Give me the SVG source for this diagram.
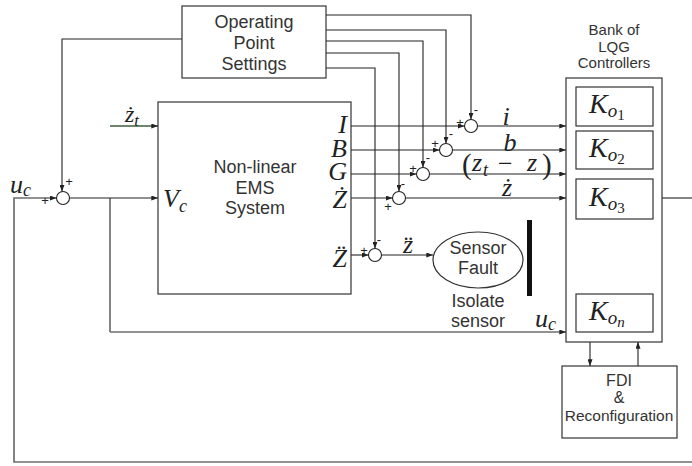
<svg xmlns="http://www.w3.org/2000/svg" width="692" height="466" viewBox="0 0 692 466">
<defs>
<marker id="arr" viewBox="0 0 8 6" refX="8" refY="3" markerWidth="7" markerHeight="5" orient="auto" markerUnits="userSpaceOnUse"><path d="M0,0 L8,3 L0,6 z" fill="#222"/></marker>
</defs>
<style>
.box{fill:#fff;stroke:#333;stroke-width:1.2}
.ln{fill:none;stroke:#222;stroke-width:1.1}
.gl{fill:none;stroke:#6e6e6e;stroke-width:1.7}
.sum{fill:#fff;stroke:#222;stroke-width:1.1}
.t{font-family:"Liberation Sans",Arial,sans-serif;fill:#333;text-anchor:middle}
.m{font-family:"Liberation Serif","Times New Roman",serif;font-style:italic;fill:#222}
.r{font-family:"Liberation Serif","Times New Roman",serif;fill:#222}
.s{font-family:"Liberation Sans",Arial,sans-serif;font-size:13px;fill:#222;text-anchor:middle}
</style>
<rect width="692" height="466" fill="#fff"/>

<g id="connectors">
  <path class="ln" d="M182,39 H62 V191.5" marker-end="url(#arr)"/>
  <path class="ln" d="M326,15 H471 V119.5" marker-end="url(#arr)"/>
  <path class="ln" d="M326,30 H446 V143.5" marker-end="url(#arr)"/>
  <path class="ln" d="M326,41 H423 V167.5" marker-end="url(#arr)"/>
  <path class="ln" d="M326,53 H399 V191.5" marker-end="url(#arr)"/>
  <path class="ln" d="M326,68 H375 V248.5" marker-end="url(#arr)"/>
  <path fill="none" stroke="#3d5e3d" stroke-width="1.3" d="M110,126 H158" marker-end="url(#arr)"/>
  <path class="gl" d="M692,462 H14 V198 H56.5" marker-end="url(#arr)"/>
  <path class="ln" d="M69.5,198 H158" marker-end="url(#arr)"/>
  <path class="ln" d="M110,198 V332"/>
  <path class="gl" style="stroke-width:1.4" d="M110,332 H566" marker-end="url(#arr)"/>
  <path class="ln" d="M351,126 H464.5" marker-end="url(#arr)"/>
  <path class="ln" d="M477.5,126 H566" marker-end="url(#arr)"/>
  <path class="ln" d="M351,150 H439.5" marker-end="url(#arr)"/>
  <path class="ln" d="M452.5,150 H566" marker-end="url(#arr)"/>
  <path class="ln" d="M351,174 H416.5" marker-end="url(#arr)"/>
  <path class="ln" d="M429.5,174 H566" marker-end="url(#arr)"/>
  <path class="ln" d="M351,198 H392.5" marker-end="url(#arr)"/>
  <path class="ln" d="M405.5,198 H566" marker-end="url(#arr)"/>
  <path class="ln" d="M351,255 H368.5" marker-end="url(#arr)"/>
  <path class="ln" d="M381.5,255 H433" marker-end="url(#arr)"/>
  <path class="ln" d="M662,198 H692"/>
  <path class="ln" d="M590,342 V366" marker-end="url(#arr)"/>
  <path class="ln" d="M638,366 V342" marker-end="url(#arr)"/>
  <path fill="none" stroke="#444" stroke-width="1.1" stroke-dasharray="5,3" d="M614,219 V294"/>
</g>

<g id="ops">
  <rect class="box" x="182" y="6" width="144" height="72"/>
  <text class="t" font-size="18" x="254" y="28">Operating</text>
  <text class="t" font-size="18" x="254" y="49">Point</text>
  <text class="t" font-size="18" x="254" y="70">Settings</text>
</g>

<g id="plant">
  <rect class="box" x="158" y="102" width="193" height="192"/>
  <text class="t" font-size="18" x="255" y="173">Non-linear</text>
  <text class="t" font-size="18" x="255" y="194">EMS</text>
  <text class="t" font-size="18" x="255" y="214">System</text>
  <text class="m" font-size="26" x="163" y="207">V<tspan font-size="18" dy="5">c</tspan></text>
  <text class="m" font-size="26" x="347" y="133" text-anchor="end">I</text>
  <text class="m" font-size="26" x="347" y="157" text-anchor="end">B</text>
  <text class="m" font-size="26" x="347" y="180" text-anchor="end">G</text>
  <text class="m" font-size="26" x="347" y="208" text-anchor="end">Ż</text>
  <text class="m" font-size="26" x="347" y="267" text-anchor="end">Z̈</text>
</g>

<g id="input-labels">
  <text class="m" font-size="24" x="125" y="122">ż<tspan font-size="17" dy="4">t</tspan></text>
  <text class="m" font-size="26" x="10" y="193">u<tspan font-size="18" dy="3">c</tspan></text>
  <text class="s" x="45" y="205">+</text>
  <text class="s" x="69" y="186">+</text>
  <text class="m" font-size="26" x="535" y="327">u<tspan font-size="18" dy="3">c</tspan></text>
</g>

<g id="sum0"><circle class="sum" cx="63" cy="198" r="6.5"/></g>
<g id="sum1"><circle class="sum" cx="471" cy="126" r="6.5"/><text class="s" x="460" y="127">+</text><text class="s" x="476" y="114">-</text></g>
<g id="sum2"><circle class="sum" cx="446" cy="150" r="6.5"/><text class="s" x="435" y="148">+</text><text class="s" x="451" y="138">-</text></g>
<g id="sum3"><circle class="sum" cx="423" cy="174" r="6.5"/><text class="s" x="413" y="173">+</text><text class="s" x="428" y="162">-</text></g>
<g id="sum4"><circle class="sum" cx="399" cy="198" r="6.5"/><text class="s" x="388" y="211">+</text><text class="s" x="403" y="188">-</text></g>
<g id="sum5"><circle class="sum" cx="375" cy="255" r="6.5"/><text class="s" x="364" y="255">+</text><text class="s" x="379" y="244">-</text></g>

<g id="signal-labels">
  <text class="m" font-size="26" x="506" y="125" text-anchor="middle">i</text>
  <text class="m" font-size="26" x="510" y="151" text-anchor="middle">b</text>
  <text class="r" font-size="29" x="462" y="174">(</text>
  <text class="m" font-size="26" x="472" y="171">z</text>
  <text class="m" font-size="18" x="483" y="176">t</text>
  <text class="r" font-size="26" x="498" y="172">−</text>
  <text class="m" font-size="26" x="527" y="171">z</text>
  <text class="r" font-size="29" x="542" y="174">)</text>
  <text class="m" font-size="26" x="507" y="196" text-anchor="middle">ż</text>
  <text class="m" font-size="26" x="408" y="253" text-anchor="middle">z̈</text>
</g>

<g id="sensor-fault">
  <ellipse cx="478" cy="260" rx="45" ry="28" fill="#fff" stroke="#333" stroke-width="1.2"/>
  <text class="t" font-size="18" x="478" y="254">Sensor</text>
  <text class="t" font-size="18" x="478" y="274">Fault</text>
</g>

<g id="isolate">
  <rect x="527" y="220" width="5" height="76" fill="#111"/>
  <text class="t" font-size="18" x="478" y="307">Isolate</text>
  <text class="t" font-size="18" x="478" y="327">sensor</text>
</g>

<g id="bank">
  <text class="t" font-size="15" x="614" y="35">Bank of</text>
  <text class="t" font-size="15" x="614" y="52">LQG</text>
  <text class="t" font-size="15" x="614" y="68">Controllers</text>
  <rect class="box" x="566" y="78" width="96" height="264"/>
</g>
<g id="k1">
  <rect class="box" x="576" y="87" width="77" height="39"/>
  <text class="m" font-size="28" x="589" y="113">K<tspan font-size="19" dy="4">o</tspan><tspan class="r" font-style="normal" font-size="15" dy="3">1</tspan></text>
</g>
<g id="k2">
  <rect class="box" x="576" y="131" width="77" height="38"/>
  <text class="m" font-size="28" x="589" y="157">K<tspan font-size="19" dy="4">o</tspan><tspan font-style="normal" font-size="15" dy="3">2</tspan></text>
</g>
<g id="k3">
  <rect class="box" x="576" y="179" width="77" height="40"/>
  <text class="m" font-size="28" x="589" y="206">K<tspan font-size="19" dy="4">o</tspan><tspan font-style="normal" font-size="15" dy="3">3</tspan></text>
</g>
<g id="kn">
  <rect class="box" x="576" y="294" width="77" height="38"/>
  <text class="m" font-size="28" x="589" y="320">K<tspan font-size="19" dy="4">o</tspan><tspan font-size="15" dy="3">n</tspan></text>
</g>

<g id="fdi">
  <rect class="box" x="562" y="366" width="115" height="72"/>
  <text class="t" font-size="16" x="619" y="386">FDI</text>
  <text class="t" font-size="16" x="619" y="403">&amp;</text>
  <text class="t" font-size="15.5" x="619" y="421">Reconfiguration</text>
</g>
</svg>
